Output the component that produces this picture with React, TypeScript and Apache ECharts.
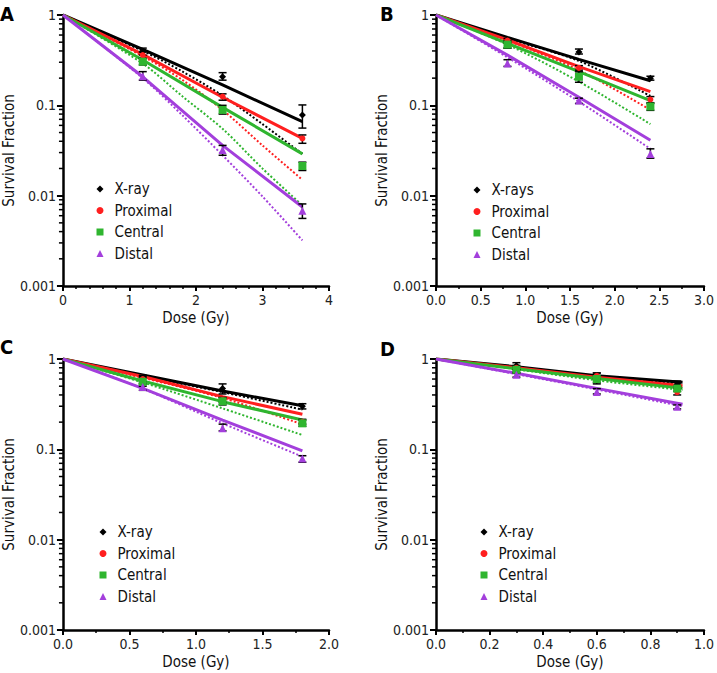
import { useEffect, useRef } from 'react';
import * as echarts from 'echarts';

const FONT = "'Liberation Sans Narrow', 'DejaVu Sans Condensed', 'Noto Sans', sans-serif";

const namesMain = ['X-ray', 'Proximal', 'Central', 'Distal'];
const namesB = ['X-rays', 'Proximal', 'Central', 'Distal'];
const colors = ['#000000', '#ff1f1f', '#2fb52f', '#a33fdc'];
const symbols = ['diamond', 'circle', 'rect', 'triangle'];
const symbolSizes = [7, 6, 8, 8];

const logMinorTicks = [
  0.002, 0.003, 0.004, 0.005, 0.006, 0.007, 0.008, 0.009,
  0.02, 0.03, 0.04, 0.05, 0.06, 0.07, 0.08, 0.09,
  0.2, 0.3, 0.4, 0.5, 0.6, 0.7, 0.8, 0.9,
];

// ---------- Panel A ----------
const doseA = [1.2, 2.4, 3.6];
const meanA = [
  [0.39, 0.207, 0.078],
  [0.36, 0.125, 0.043],
  [0.304, 0.089, 0.0213],
  [0.21, 0.032, 0.0068],
];
const lowA = [
  [0.36, 0.19, 0.056],
  [0.33, 0.114, 0.038],
  [0.28, 0.08, 0.019],
  [0.19, 0.028, 0.0056],
];
const highA = [
  [0.43, 0.23, 0.101],
  [0.39, 0.134, 0.047],
  [0.33, 0.1, 0.0235],
  [0.236, 0.036, 0.0081],
];
const fitDoseA = [0, 1.2, 2.4, 3.6];
const fitA = [
  [1, 0.417, 0.168, 0.066],
  [1, 0.367, 0.123, 0.043],
  [1, 0.318, 0.095, 0.029],
  [1, 0.207, 0.036, 0.0075],
];
const dotDoseA = [0, 1.2, 1.8, 2.4, 3.0, 3.6];
const dotA = [
  [1, 0.4, 0.236, 0.128, 0.062, 0.029],
  [1, 0.35, 0.19, 0.089, 0.036, 0.015],
  [1, 0.29, 0.125, 0.055, 0.02, 0.0078],
  [1, 0.2, 0.077, 0.028, 0.0098, 0.0032],
];

// ---------- Panel B ----------
const doseB = [0.8, 1.6, 2.4];
const meanB = [
  [0.485, 0.39, 0.199],
  [0.52, 0.26, 0.116],
  [0.47, 0.207, 0.097],
  [0.29, 0.113, 0.029],
];
const lowB = [
  [0.43, 0.37, 0.19],
  [0.49, 0.245, 0.107],
  [0.43, 0.18, 0.088],
  [0.27, 0.105, 0.026],
];
const highB = [
  [0.52, 0.42, 0.21],
  [0.55, 0.275, 0.125],
  [0.51, 0.235, 0.105],
  [0.32, 0.12, 0.033],
];
const fitDoseB = [0, 0.8, 1.6, 2.4];
const fitB = [
  [1, 0.566, 0.323, 0.187],
  [1, 0.53, 0.268, 0.142],
  [1, 0.486, 0.236, 0.113],
  [1, 0.36, 0.123, 0.041],
];
const dotDoseB = [0, 0.8, 1.6, 2.4];
const dotB = [
  [1, 0.55, 0.31, 0.127],
  [1, 0.52, 0.245, 0.089],
  [1, 0.47, 0.183, 0.062],
  [1, 0.34, 0.11, 0.033],
];

// ---------- Panel C ----------
const doseC = [0.6, 1.2, 1.8];
const meanC = [
  [0.6, 0.47, 0.3],
  [0.6, 0.352, 0.202],
  [0.56, 0.34, 0.194],
  [0.49, 0.171, 0.079],
];
const lowC = [
  [0.53, 0.41, 0.28],
  [0.56, 0.33, 0.19],
  [0.5, 0.31, 0.18],
  [0.45, 0.16, 0.072],
];
const highC = [
  [0.66, 0.53, 0.32],
  [0.64, 0.375, 0.215],
  [0.62, 0.37, 0.21],
  [0.53, 0.19, 0.085],
];
const fitDoseC = [0, 0.6, 1.2, 1.8];
const fitC = [
  [1, 0.665, 0.442, 0.304],
  [1, 0.64, 0.383, 0.244],
  [1, 0.57, 0.337, 0.211],
  [1, 0.473, 0.211, 0.096],
];
const dotDoseC = [0, 0.6, 1.2, 1.8];
const dotC = [
  [1, 0.65, 0.43, 0.275],
  [1, 0.62, 0.37, 0.189],
  [1, 0.55, 0.284, 0.144],
  [1, 0.47, 0.194, 0.083],
];

// ---------- Panel D ----------
const doseD = [0.3, 0.6, 0.9];
const meanD = [
  [0.84, 0.6, 0.525],
  [0.8, 0.65, 0.43],
  [0.76, 0.6, 0.47],
  [0.67, 0.43, 0.297],
];
const lowD = [
  [0.77, 0.53, 0.48],
  [0.76, 0.6, 0.4],
  [0.7, 0.55, 0.44],
  [0.63, 0.41, 0.28],
];
const highD = [
  [0.91, 0.7, 0.57],
  [0.85, 0.7, 0.47],
  [0.82, 0.65, 0.5],
  [0.71, 0.47, 0.31],
];
const fitDoseD = [0, 0.3, 0.6, 0.92];
const fitD = [
  [1, 0.822, 0.653, 0.552],
  [1, 0.8, 0.63, 0.507],
  [1, 0.78, 0.61, 0.473],
  [1, 0.694, 0.473, 0.315],
];
const dotDoseD = [0, 0.3, 0.6, 0.92];
const dotD = [
  [1, 0.81, 0.64, 0.53],
  [1, 0.79, 0.61, 0.49],
  [1, 0.77, 0.58, 0.454],
  [1, 0.68, 0.46, 0.3],
];

const panels = [
  { letter: 'A', left: 57, top: 15, xMax: 4, xInt: 1, minor: 5, dec: 0, names: namesMain,
    dose: doseA, mean: meanA, low: lowA, high: highA, fitDose: fitDoseA, fit: fitA, dotDose: dotDoseA, dot: dotA,
    legendLeft: 91.5, legendTop: 176, letterX: 0, letterY: 4 },
  { letter: 'B', left: 436, top: 15, xMax: 3, xInt: 0.5, minor: 2, dec: 1, names: namesB,
    dose: doseB, mean: meanB, low: lowB, high: highB, fitDose: fitDoseB, fit: fitB, dotDose: dotDoseB, dot: dotB,
    legendLeft: 468.5, legendTop: 177, letterX: 380, letterY: 4 },
  { letter: 'C', left: 57, top: 359, xMax: 2, xInt: 0.5, minor: 2, dec: 1, names: namesMain,
    dose: doseC, mean: meanC, low: lowC, high: highC, fitDose: fitDoseC, fit: fitC, dotDose: dotDoseC, dot: dotC,
    legendLeft: 94.5, legendTop: 519, letterX: 0, letterY: 337 },
  { letter: 'D', left: 436, top: 359, xMax: 1, xInt: 0.2, minor: 2, dec: 1, names: namesMain,
    dose: doseD, mean: meanD, low: lowD, high: highD, fitDose: fitDoseD, fit: fitD, dotDose: dotDoseD, dot: dotD,
    legendLeft: 475.5, legendTop: 519, letterX: 380, letterY: 339 },
];

function buildOption() {
  const grid: any[] = [];
  const xAxis: any[] = [];
  const yAxis: any[] = [];
  const legend: any[] = [];
  const series: any[] = [];
  const graphic: any[] = [];

  panels.forEach((p, i) => {
    grid.push({ left: p.left, top: p.top, width: 272, height: 271 });
    xAxis.push({
      type: 'value', gridIndex: i, min: 0, max: p.xMax, interval: p.xInt,
      name: 'Dose (Gy)', nameLocation: 'middle', nameGap: 24,
      nameTextStyle: { fontFamily: FONT, fontSize: 15, color: '#111' },
      axisLine: { show: true, onZero: false, lineStyle: { color: '#000', width: 2.5 } },
      axisTick: { show: true, length: 5, lineStyle: { color: '#000', width: 2 } },
      minorTick: { show: true, splitNumber: p.minor, length: 3, lineStyle: { color: '#000', width: 1.5 } },
      splitLine: { show: false },
      minorSplitLine: { show: false },
      axisLabel: {
        formatter: (v: number) => v.toFixed(p.dec),
        fontFamily: FONT, fontSize: 14, color: '#222', margin: 7,
      },
    });
    yAxis.push({
      type: 'log', logBase: 10, gridIndex: i, min: 0.001, max: 1,
      name: 'Survival Fraction', nameLocation: 'middle', nameGap: 38,
      nameTextStyle: { fontFamily: FONT, fontSize: 15, color: '#111' },
      axisLine: { show: true, onZero: false, lineStyle: { color: '#000', width: 2.5 } },
      axisTick: { show: true, length: 6, lineStyle: { color: '#000', width: 2 } },
      splitLine: { show: false },
      axisLabel: {
        formatter: (v: number) => {
          const e = Math.round(Math.log10(v));
          return e >= 0 ? '1' : Math.pow(10, e).toFixed(-e);
        },
        fontFamily: FONT, fontSize: 14, color: '#222', margin: 7,
      },
    });
    legend.push({
      orient: 'vertical', left: p.legendLeft, top: p.legendTop,
      itemWidth: 7, itemHeight: 7, itemGap: 5.5, selectedMode: false,
      data: p.names.map((n, k) => ({ name: n, icon: symbols[k] })),
      textStyle: { fontFamily: FONT, fontSize: 15, lineHeight: 16, color: '#111', padding: [0, 0, 0, 6] },
    });

    // dotted fits
    p.dot.forEach((row, k) => {
      series.push({
        type: 'line', xAxisIndex: i, yAxisIndex: i, silent: true, z: 1,
        showSymbol: false, smooth: 0.3,
        data: p.dotDose.map((d, j) => [d, row[j]]),
        lineStyle: { color: colors[k], width: 2, type: [2, 2] },
      });
    });
    // solid fits
    p.fit.forEach((row, k) => {
      series.push({
        type: 'line', xAxisIndex: i, yAxisIndex: i, silent: true, z: 2,
        showSymbol: false,
        data: p.fitDose.map((d, j) => [d, row[j]]),
        lineStyle: { color: colors[k], width: 3 },
      });
    });
    // error bars
    const errData: number[][] = [];
    p.low.forEach((row, k) => {
      row.forEach((lo, j) => errData.push([p.dose[j], lo, p.high[k][j]]));
    });
    series.push({
      type: 'custom', xAxisIndex: i, yAxisIndex: i, silent: true, z: 3,
      encode: { x: 0, y: [1, 2] },
      data: errData,
      renderItem: (params: any, api: any) => {
        const x = api.value(0);
        const a = api.coord([x, api.value(1)]);
        const b = api.coord([x, api.value(2)]);
        const st = { stroke: '#000', lineWidth: 1.5 };
        return {
          type: 'group',
          children: [
            { type: 'line', shape: { x1: a[0], y1: a[1], x2: b[0], y2: b[1] }, style: st },
            { type: 'line', shape: { x1: a[0] - 4, y1: a[1], x2: a[0] + 4, y2: a[1] }, style: st },
            { type: 'line', shape: { x1: b[0] - 4, y1: b[1], x2: b[0] + 4, y2: b[1] }, style: st },
          ],
        };
      },
    });
    // points
    p.mean.forEach((row, k) => {
      series.push({
        type: 'scatter', name: p.names[k], xAxisIndex: i, yAxisIndex: i, z: 4,
        symbol: symbols[k], symbolSize: symbolSizes[k],
        itemStyle: { color: colors[k], opacity: 1 },
        data: p.dose.map((d, j) => [d, row[j]]),
      });
    });
    // log minor ticks
    series.push({
      type: 'custom', xAxisIndex: i, yAxisIndex: i, silent: true, z: 5, clip: false,
      data: logMinorTicks.map((v) => [0, v]),
      renderItem: (params: any, api: any) => {
        const c = api.coord([0, api.value(1)]);
        return {
          type: 'line',
          shape: { x1: c[0] - 4, y1: c[1], x2: c[0], y2: c[1] },
          style: { stroke: '#000', lineWidth: 1.5 },
        };
      },
    });

    graphic.push({
      type: 'text', left: p.letterX, top: p.letterY,
      style: { text: p.letter, font: `bold 20px ${FONT}`, fill: '#000' },
    });
  });

  return {
    animation: false,
    backgroundColor: '#fff',
    grid, xAxis, yAxis, legend, series, graphic,
  };
}

export default function App() {
  const ref = useRef<HTMLDivElement>(null);
  useEffect(() => {
    if (!ref.current) return;
    const chart = echarts.init(ref.current, undefined, { renderer: 'svg' });
    chart.setOption(buildOption() as any);
    return () => chart.dispose();
  }, []);
  return (
    <div
      ref={ref}
      style={{ position: 'absolute', left: 0, top: 0, width: 717, height: 673, background: '#fff' }}
    />
  );
}
